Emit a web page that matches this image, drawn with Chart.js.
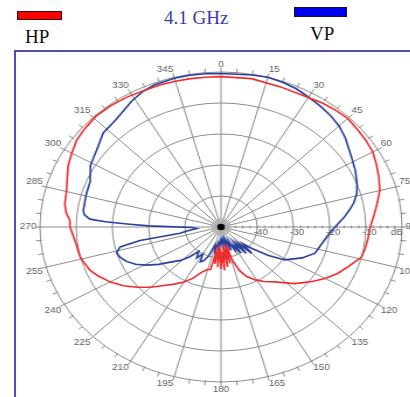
<!DOCTYPE html>
<html>
<head>
<meta charset="utf-8">
<script src="https://cdn.jsdelivr.net/npm/chart.js@4"></script>
<style>
  html, body { margin: 0; padding: 0; background: #fff; width: 410px; height: 397px; overflow: hidden; position: relative; }
  .frame { position: absolute; left: 14px; top: 50px; width: 430px; height: 420px; border: 2px solid #4d4db4; box-sizing: border-box; }
  .key { position: absolute; box-sizing: border-box; border: 1px solid #3a0808; }
  .txt { position: absolute; font-family: "Liberation Serif", "Times New Roman", serif; font-size: 19px; line-height: 19px; white-space: nowrap; }
  #wrap { position: absolute; left: 31px; top: 57px; width: 380px; height: 340px; transform-origin: 190px 170px; transform: scaleX(1.168); }
</style>
</head>
<body>
<div class="frame"></div>
<div class="key" style="left:17px;top:11px;width:45px;height:9px;background:#ff0000;"></div>
<div class="txt" style="left:25px;top:27px;color:#111;">HP</div>
<div class="txt" style="left:164px;top:8px;color:#3a3ab4;">4.1 GHz</div>
<div class="key" style="left:294px;top:7px;width:53px;height:10px;background:#0000f0;border-color:#10103a;"></div>
<div class="txt" style="left:310px;top:24px;color:#111;">VP</div>
<div id="wrap"><canvas id="c" width="380" height="340"></canvas></div>
<script>
// Azimuth labels around the rim and gain labels along the 90° radial
const angleLabels = ['0','15','30','45','60','75','90','105','120','135','150','165',
                     '180','195','210','225','240','255','270','285','300','315','330','345'];
const dbTicks = [-40, -30, -20, -10];

// HP (horizontal polarisation) pattern: azimuth in degrees, relative gain in dB
const hpAngles = [0,10,20,30,35,40,45,50,55,60,65,70,75,80,85,90,95,100,104,110,
                  115,120,125,132,140,146,151,156,160,164,166,168,170,172,174,176,178,180,182,184,
                  186,188,190,192,195,200,205,210,215,220,225,230,235,240,245,249,256,264,270,273,
                  276,280,285,290,295,300,305,310,316,322,328,334,340,345,350,355];
const hpGain = [-1.5,-1.4,-1.9,-1.8,-1.2,-0.8,-0.5,-0.9,-1.2,-1.6,-2.6,-3.6,-4.6,-6.2,-7.6,-8.8,-9.2,-9.6,-10,-12.6,
                -14.5,-16.8,-19.3,-22.7,-26.9,-28.8,-30.5,-32.5,-35,-39,-44,-38,-43,-37,-44,-36,-42,-36.5,-43,-37,
                -44,-38,-41,-36,-35.8,-34.5,-31.8,-29.5,-27.5,-25.4,-22.5,-19.8,-17,-14.6,-12.6,-11.2,-9.9,-9.4,-8.3,-8.2,
                -7,-6.2,-5.8,-4.8,-3.4,-2.4,-1.3,-0.8,-0.3,-0.4,-0.7,-1.1,-1.2,-1.3,-1.4,-1.5];

// VP (vertical polarisation) pattern
const vpAngles = [0,10,15,20,25,30,35,40,45,50,53,58,64,70,74,78,81,85,88,90,
                  94,98,103,108,114,121,125,129,132,135,138,141,144,147,150,153,156,160,164,168,
                  172,176,180,184,188,192,196,200,204,207,210,214,218,222,226,231,235,239,243,247,
                  251,254,257,259,260,263,266,269,271,272,273,274,276,278,286,292,299,306,313,320,
                  329,334,338,345,350,355];
const vpGain = [-0.5,-0.2,0,-0.3,-0.8,-1.6,-2.3,-3,-3.9,-5.2,-6.2,-7.5,-8.7,-10,-11,-12.5,-14,-16,-17.6,-18.5,
                -20,-21,-22,-22.7,-25.5,-29.4,-34,-39,-42,-38,-43,-39,-44,-40,-43,-41.5,-45,-42,-46,-43,
                -46,-44,-46,-43,-45,-42,-44,-40,-38,-37.4,-40,-38,-40,-37.1,-34.5,-32,-29,-26.1,-23.5,-21.6,
                -20.4,-20,-21.4,-27.2,-38.5,-41,-43.3,-42,-30,-24.8,-18,-13.7,-12,-11.6,-11.3,-11,-8.8,-7.6,-5.5,-4.8,
                -2.4,-1.2,-0.6,-0.3,-0.3,-0.4];

// One radar category per degree; measured azimuths carry a value, the rest stay empty
const degrees = Array.from({ length: 360 }, (_, i) => String(i));
function toSeries(angles, gains) {
  const out = new Array(360).fill(null);
  angles.forEach((a, i) => { out[a] = gains[i]; });
  return out;
}

const GRID = '#8c8c8c';
const LABEL = '#5a5a5a';

const polarDecor = {
  id: 'polarDecor',
  beforeDatasetsDraw(chart) {
    const s = chart.scales.r, ctx = chart.ctx, R = s.drawingArea;
    ctx.save();
    ctx.strokeStyle = GRID;
    ctx.lineWidth = 1;
    ctx.beginPath();
    // rim ticks every 5°
    for (let a = 0; a < 360; a += 5) {
      const p1 = s.getPointPosition(a, R - 1), p2 = s.getPointPosition(a, R + 4);
      ctx.moveTo(p1.x, p1.y); ctx.lineTo(p2.x, p2.y);
    }
    // 2 dB ticks along the 90° radial
    for (let v = -48; v < 0; v += 2) {
      const p = s.getPointPositionForValue(90, v);
      ctx.moveTo(p.x, p.y - 1.5); ctx.lineTo(p.x, p.y + 1.5);
    }
    ctx.stroke();
    // fine spokes around the origin
    ctx.strokeStyle = '#b0b0b0';
    ctx.lineWidth = 0.6;
    ctx.beginPath();
    for (let a = 0; a < 360; a += 5) {
      const p = s.getPointPosition(a, R * 0.055);
      ctx.moveTo(s.xCenter, s.yCenter); ctx.lineTo(p.x, p.y);
    }
    ctx.stroke();
    ctx.restore();
  },
  afterDatasetsDraw(chart) {
    const s = chart.scales.r, ctx = chart.ctx;
    ctx.save();
    ctx.fillStyle = '#000';
    ctx.beginPath();
    ctx.arc(s.xCenter, s.yCenter, 3.2, 0, Math.PI * 2);
    ctx.fill();
    ctx.restore();
  },
  afterDraw(chart) {
    const s = chart.scales.r, ctx = chart.ctx, R = s.drawingArea;
    ctx.save();
    ctx.fillStyle = LABEL;
    ctx.font = '8.5px "Liberation Sans", Arial, sans-serif';
    angleLabels.forEach(txt => {
      const deg = Number(txt);
      const p = s.getPointPosition(deg, R + 3);
      ctx.textAlign = (deg === 0 || deg === 180) ? 'center' : (deg < 180 ? 'left' : 'right');
      ctx.textBaseline = (deg === 90 || deg === 270) ? 'middle' : ((deg < 90 || deg > 270) ? 'bottom' : 'top');
      ctx.fillText(txt, p.x, p.y);
    });
    ctx.textAlign = 'center';
    ctx.textBaseline = 'middle';
    dbTicks.forEach(v => {
      const p = s.getPointPositionForValue(90, v + 1);
      ctx.fillText(String(v), p.x, p.y + 6);
    });
    const u = s.getPointPositionForValue(90, -1.5);
    ctx.fillText('dB', u.x, u.y + 6);
    ctx.restore();
  }
};

new Chart(document.getElementById('c'), {
  type: 'radar',
  data: {
    labels: degrees,
    datasets: [
      { label: 'HP', data: toSeries(hpAngles, hpGain), borderColor: '#ee2e2e', borderWidth: 1.6, fill: false, spanGaps: true },
      { label: 'VP', data: toSeries(vpAngles, vpGain), borderColor: '#2b3f9e', borderWidth: 1.6, fill: false, spanGaps: true }
    ]
  },
  options: {
    responsive: false,
    animation: false,
    devicePixelRatio: 1,
    layout: { padding: { left: 35, right: 35, top: 15, bottom: 15 } },
    plugins: { legend: { display: false }, tooltip: { enabled: false } },
    elements: { point: { radius: 0, hoverRadius: 0 }, line: { tension: 0 } },
    scales: {
      r: {
        min: -50,
        max: 0,
        ticks: { display: false, stepSize: 10 },
        pointLabels: { display: false },
        grid: { circular: true, color: GRID, lineWidth: 1 },
        angleLines: { display: true, color: GRID, lineWidth: ctx => (ctx.index % 15 === 0 ? 1 : 0) }
      }
    }
  },
  plugins: [polarDecor]
});
</script>
</body>
</html>
